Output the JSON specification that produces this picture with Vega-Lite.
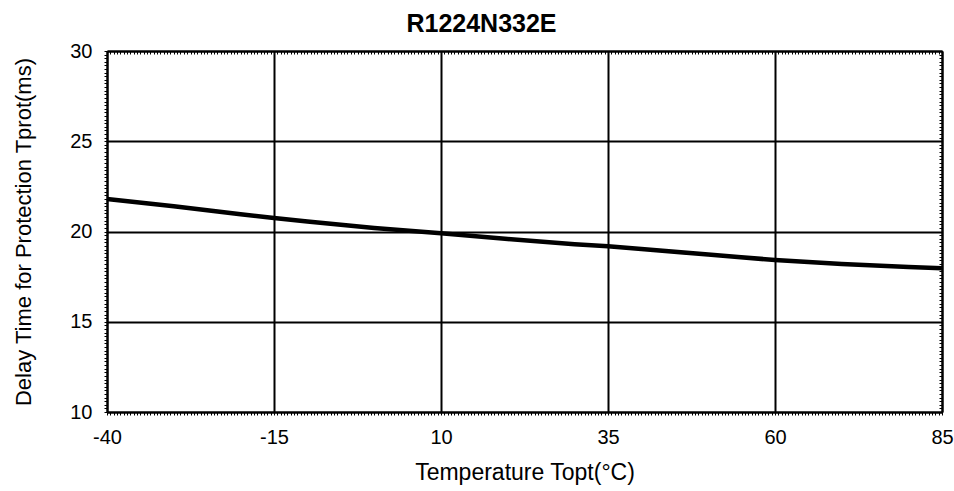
{
  "$schema": "https://vega.github.io/schema/vega-lite/v6.json",
  "width": 835,
  "height": 361,
  "autosize": "none",
  "padding": {"left": 107, "top": 51, "right": 12, "bottom": 79},
  "background": "white",
  "config": {"view": {"stroke": null}, "font": "Liberation Sans"},
  "title": {
    "text": "R1224N332E",
    "fontSize": 25,
    "fontWeight": "bold",
    "font": "Liberation Sans",
    "color": "black",
    "anchor": "middle",
    "frame": "group",
    "dx": -43,
    "offset": -21,
    "baseline": "bottom"
  },
  "data": {
    "values": [
      {"temp": -40, "delay": 21.8},
      {"temp": -30, "delay": 21.4},
      {"temp": -20, "delay": 20.95},
      {"temp": -15, "delay": 20.75},
      {"temp": -10, "delay": 20.55},
      {"temp": 0, "delay": 20.2},
      {"temp": 10, "delay": 19.9},
      {"temp": 20, "delay": 19.58},
      {"temp": 30, "delay": 19.3},
      {"temp": 35, "delay": 19.18},
      {"temp": 40, "delay": 19.03},
      {"temp": 50, "delay": 18.72},
      {"temp": 60, "delay": 18.42},
      {"temp": 70, "delay": 18.2},
      {"temp": 80, "delay": 18.03},
      {"temp": 85, "delay": 17.97}
    ]
  },
  "layer": [
    {
      "mark": {"type": "line", "opacity": 0},
      "encoding": {
        "x": {
          "field": "temp",
          "type": "quantitative",
          "scale": {"domain": [-40, 85], "nice": false, "zero": false},
          "axis": {
            "orient": "bottom",
            "tickCount": 200,
            "labelExpr": "(datum.value + 40) % 25 === 0 ? '' + datum.value : ''",
            "labelOverlap": false,
            "labelBound": false,
            "labelFlush": false,
            "labelFontSize": 20,
            "labelColor": "black",
            "labelPadding": 12,
            "tickSize": 3,
            "tickColor": "black",
            "tickWidth": 1,
            "domainColor": "black",
            "domainWidth": 2,
            "grid": true,
            "gridColor": "black",
            "gridWidth": 2,
            "gridOpacity": {"condition": {"test": "(datum.value + 40) % 25 === 0", "value": 1}, "value": 0},
            "title": "Temperature Topt(°C)",
            "titleFontSize": 23,
            "titleFontWeight": "normal",
            "titleColor": "black",
            "titlePadding": 14
          }
        },
        "y": {
          "field": "delay",
          "type": "quantitative",
          "scale": {"domain": [10, 30], "nice": false, "zero": false},
          "axis": {
            "orient": "left",
            "tickCount": 100,
            "labelExpr": "datum.value % 5 === 0 ? '' + datum.value : ''",
            "labelOverlap": false,
            "labelBound": false,
            "labelFlush": false,
            "labelFontSize": 20,
            "labelColor": "black",
            "labelPadding": 12,
            "tickSize": 3,
            "tickColor": "black",
            "tickWidth": 1,
            "domainColor": "black",
            "domainWidth": 2,
            "grid": true,
            "gridColor": "black",
            "gridWidth": 2,
            "gridOpacity": {"condition": {"test": "datum.value % 5 === 0", "value": 1}, "value": 0},
            "title": "Delay Time for Protection Tprot(ms)",
            "titleFontSize": 22,
            "titleFontWeight": "normal",
            "titleColor": "black",
            "titlePadding": 34
          }
        }
      }
    },
    {
      "mark": {"type": "line", "color": "black", "strokeWidth": 4.5},
      "encoding": {
        "x": {
          "field": "temp",
          "type": "quantitative",
          "axis": {
            "orient": "top",
            "tickCount": 200,
            "labels": false,
            "tickSize": -3,
            "tickColor": "black",
            "tickWidth": 1,
            "domainColor": "black",
            "domainWidth": 2,
            "grid": false,
            "title": null
          }
        },
        "y": {
          "field": "delay",
          "type": "quantitative",
          "axis": {
            "orient": "right",
            "tickCount": 100,
            "labels": false,
            "tickSize": -3,
            "tickColor": "black",
            "tickWidth": 1,
            "domainColor": "black",
            "domainWidth": 2,
            "grid": false,
            "title": null
          }
        }
      }
    }
  ],
  "resolve": {"axis": {"x": "independent", "y": "independent"}}
}
